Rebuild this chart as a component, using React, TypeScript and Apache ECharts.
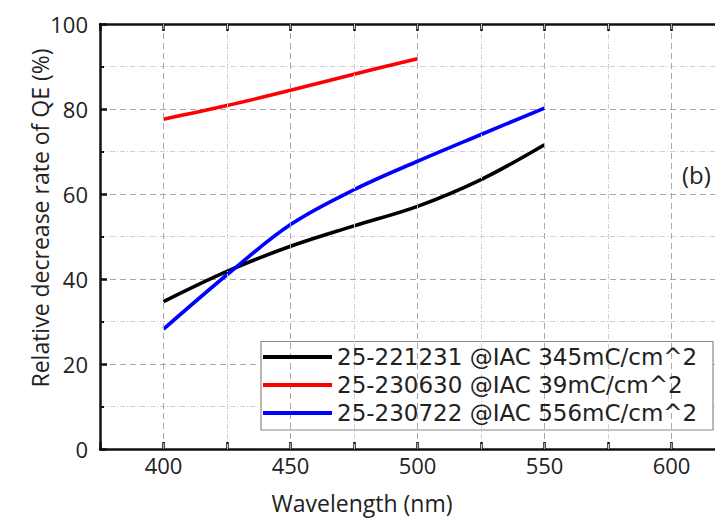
import React, { useEffect, useRef } from "react";
import * as echarts from "echarts";

const wavelengths = [400, 425, 450, 475, 500, 525, 550];
const black221231 = [34.7, 41.8, 47.7, 52.5, 57.1, 63.4, 71.6];
const red230630 = [77.6, 80.8, 84.4, 88.2, 91.8];
const blue230722 = [28.2, 41.0, 52.8, 61.0, 67.7, 74.0, 80.2];
const seriesNames = [
  "25-221231 @IAC 345mC/cm^2",
  "25-230630 @IAC 39mC/cm^2",
  "25-230722 @IAC 556mC/cm^2",
];
const xMajorGrid = [400, 450, 500, 550, 600];
const xMinorGrid = [425, 475, 525, 575];
const xMin = 375;
const xMax = 625;
const yMin = 0;
const yMax = 100;

const pairs = (vals: number[]) => vals.map((v, i) => [wavelengths[i], v]);

const FONT = "Open Sans";
const TXT = "#222";

export default function App() {
  const ref = useRef<HTMLDivElement>(null);
  useEffect(() => {
    if (!ref.current) return;
    const chart = echarts.init(ref.current, undefined, { renderer: "svg" });
    const majorSplit = { show: true, lineStyle: { color: "#a8a8a8", type: [6, 4], width: 1 } };
    const minorSplit = { show: true, lineStyle: { color: "#cfcfcf", type: [5, 2, 1, 2], width: 1 } };
    const axisLine = { show: true, onZero: false, lineStyle: { color: "#111", width: 2.5 } };
    const tick = { show: true, inside: true, length: 7, lineStyle: { color: "#111", width: 2.5 } };
    const minorTick = { show: true, splitNumber: 2, length: 4, lineStyle: { color: "#111", width: 2 } };
    const lineSeries = (name: string, vals: number[], color: string) => ({
      name,
      type: "line",
      data: pairs(vals),
      smooth: 0.35,
      showSymbol: false,
      symbol: "none",
      lineStyle: { color, width: 3.6 },
      itemStyle: { color },
      z: 2,
    });
    const gridMarks = (name: string, vals: number[], style: any) => ({
      name,
      type: "line",
      data: [],
      z: 1,
      markLine: {
        silent: true,
        symbol: "none",
        label: { show: false },
        lineStyle: style,
        data: vals.map((v) => ({ xAxis: v })),
      },
    });
    chart.setOption({
      animation: false,
      backgroundColor: "#ffffff",
      textStyle: { fontFamily: FONT },
      grid: { left: 100, top: 24, width: 635, height: 425, containLabel: false, outerBoundsMode: "none" },
      xAxis: [
        {
          type: "value",
          min: xMin,
          max: xMax,
          interval: 25,
          position: "bottom",
          axisLine,
          axisTick: tick,
          splitLine: { show: false },
          axisLabel: {
            show: true,
            margin: 5,
            fontSize: 22,
            color: TXT,
            fontFamily: FONT,
            formatter: (v: number) => (v % 50 === 0 ? String(v) : ""),
          },
        },
        {
          type: "value",
          min: xMin,
          max: xMax,
          interval: 25,
          position: "top",
          axisLine,
          axisTick: tick,
          splitLine: { show: false },
          axisLabel: { show: false },
        },
      ],
      yAxis: [
        {
          type: "value",
          min: yMin,
          max: yMax,
          interval: 20,
          position: "left",
          axisLine,
          axisTick: tick,
          minorTick,
          splitLine: majorSplit,
          minorSplitLine: minorSplit,
          axisLabel: { margin: 12, fontSize: 22, color: TXT, fontFamily: FONT },
        },
        {
          type: "value",
          min: yMin,
          max: yMax,
          interval: 20,
          position: "right",
          axisLine,
          axisTick: tick,
          splitLine: { show: false },
          axisLabel: { show: false },
        },
      ],
      legend: {
        orient: "vertical",
        left: 263,
        top: 343,
        padding: 0,
        itemGap: 0,
        itemWidth: 69,
        itemHeight: 4,
        icon: "rect",
        data: seriesNames,
        textStyle: { fontSize: 23, color: TXT, fontFamily: "DejaVu Sans", lineHeight: 28 },
        z: 6,
      },
      graphic: [
        {
          type: "rect",
          z: 5,
          shape: { x: 261, y: 341.5, width: 452, height: 88.5 },
          style: { fill: "#ffffff", stroke: "#8a8a8a", lineWidth: 1.2 },
        },
        {
          type: "text",
          z: 6,
          x: 682,
          y: 174,
          style: { text: "(b)", fontSize: 24, fill: TXT, fontFamily: FONT, verticalAlign: "middle", align: "left" },
        },
        {
          type: "text",
          z: 6,
          x: 362,
          y: 503,
          style: { text: "Wavelength (nm)", fontSize: 23, fill: TXT, fontFamily: FONT, verticalAlign: "middle", align: "center" },
        },
        {
          type: "text",
          z: 6,
          x: 40,
          y: 218,
          rotation: Math.PI / 2,
          style: { text: "Relative decrease rate of QE (%)", fontSize: 23, fill: TXT, fontFamily: FONT, verticalAlign: "middle", align: "center" },
        },
      ],
      series: [
        lineSeries(seriesNames[0], black221231, "#000000"),
        lineSeries(seriesNames[1], red230630, "#ff0000"),
        lineSeries(seriesNames[2], blue230722, "#0000ff"),
        gridMarks("xgrid-major", xMajorGrid, { color: "#a8a8a8", type: [6, 4], width: 1 }),
        gridMarks("xgrid-minor", xMinorGrid, { color: "#cfcfcf", type: [5, 2, 1, 2], width: 1 }),
      ],
    });
    return () => chart.dispose();
  }, []);
  return (
    <div
      ref={ref}
      style={{ position: "absolute", left: 0, top: 0, width: 715, height: 519, overflow: "hidden", background: "#fff" }}
    />
  );
}
